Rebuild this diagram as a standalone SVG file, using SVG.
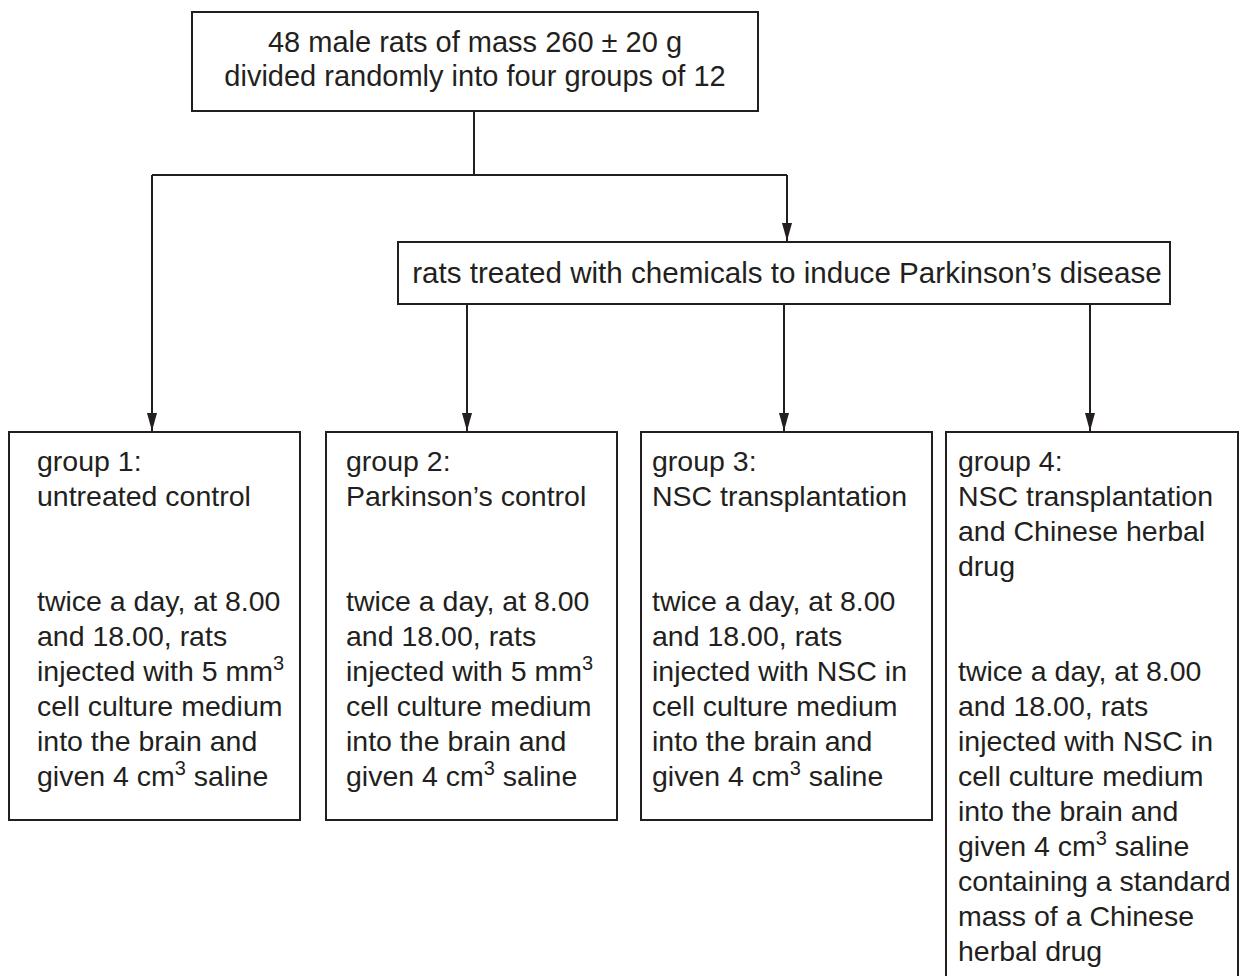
<svg xmlns="http://www.w3.org/2000/svg" width="1242" height="976" viewBox="0 0 1242 976">
<style>
  .box { fill: #ffffff; stroke: #231f20; stroke-width: 2; }
  .conn { fill: none; stroke: #231f20; stroke-width: 2; }
  text { font-family: "Liberation Sans", Arial, sans-serif; font-size: 28.5px; fill: #231f20; }
  .c { text-anchor: middle; font-size: 29px; }
  .m { font-size: 29.6px; }
  .sup { font-size: 20px; }
</style>
<defs>
  <marker id="arrow" markerWidth="18" markerHeight="10" refX="18" refY="5" orient="auto" markerUnits="userSpaceOnUse" viewBox="0 0 18 10">
    <path d="M0,0 L18,5 L0,10 Z" fill="#231f20"/>
  </marker>
</defs>
<rect width="1242" height="976" fill="#ffffff"/>

<g id="connectors">
  <path class="conn" d="M474,111 V175"/>
  <path class="conn" d="M152,175 H787"/>
  <path class="conn" d="M152,175 V431" marker-end="url(#arrow)"/>
  <path class="conn" d="M787,175 V241" marker-end="url(#arrow)"/>
  <path class="conn" d="M467,304 V431" marker-end="url(#arrow)"/>
  <path class="conn" d="M784,304 V431" marker-end="url(#arrow)"/>
  <path class="conn" d="M1090,304 V431" marker-end="url(#arrow)"/>
</g>

<g id="start">
  <rect class="box" x="192" y="12" width="566" height="99"/>
  <text class="c" x="475" y="52">48 male rats of mass 260 ± 20 g</text>
  <text class="c" x="475" y="86">divided randomly into four groups of 12</text>
</g>

<g id="induce">
  <rect class="box" x="398" y="242" width="772" height="62"/>
  <text class="c m" x="787" y="283">rats treated with chemicals to induce Parkinson’s disease</text>
</g>

<g id="group1">
  <rect class="box" x="9" y="432" width="291" height="388"/>
  <text x="37" y="471">group 1:</text>
  <text x="37" y="506">untreated control</text>
  <text x="37" y="611">twice a day, at 8.00</text>
  <text x="37" y="646">and 18.00, rats</text>
  <text x="37" y="681">injected with 5 mm<tspan class="sup" dy="-11">3</tspan></text>
  <text x="37" y="716">cell culture medium</text>
  <text x="37" y="751">into the brain and</text>
  <text x="37" y="786">given 4 cm<tspan class="sup" dy="-11">3</tspan><tspan dy="11"> saline</tspan></text>
</g>

<g id="group2">
  <rect class="box" x="326" y="432" width="291" height="388"/>
  <text x="346" y="471">group 2:</text>
  <text x="346" y="506">Parkinson’s control</text>
  <text x="346" y="611">twice a day, at 8.00</text>
  <text x="346" y="646">and 18.00, rats</text>
  <text x="346" y="681">injected with 5 mm<tspan class="sup" dy="-11">3</tspan></text>
  <text x="346" y="716">cell culture medium</text>
  <text x="346" y="751">into the brain and</text>
  <text x="346" y="786">given 4 cm<tspan class="sup" dy="-11">3</tspan><tspan dy="11"> saline</tspan></text>
</g>

<g id="group3">
  <rect class="box" x="641" y="432" width="291" height="388"/>
  <text x="652" y="471">group 3:</text>
  <text x="652" y="506">NSC transplantation</text>
  <text x="652" y="611">twice a day, at 8.00</text>
  <text x="652" y="646">and 18.00, rats</text>
  <text x="652" y="681">injected with NSC in</text>
  <text x="652" y="716">cell culture medium</text>
  <text x="652" y="751">into the brain and</text>
  <text x="652" y="786">given 4 cm<tspan class="sup" dy="-11">3</tspan><tspan dy="11"> saline</tspan></text>
</g>

<g id="group4">
  <rect class="box" x="946" y="432" width="292" height="580"/>
  <text x="958" y="471">group 4:</text>
  <text x="958" y="506">NSC transplantation</text>
  <text x="958" y="541">and Chinese herbal</text>
  <text x="958" y="576">drug</text>
  <text x="958" y="681">twice a day, at 8.00</text>
  <text x="958" y="716">and 18.00, rats</text>
  <text x="958" y="751">injected with NSC in</text>
  <text x="958" y="786">cell culture medium</text>
  <text x="958" y="821">into the brain and</text>
  <text x="958" y="856">given 4 cm<tspan class="sup" dy="-11">3</tspan><tspan dy="11"> saline</tspan></text>
  <text x="958" y="891">containing a standard</text>
  <text x="958" y="926">mass of a Chinese</text>
  <text x="958" y="961">herbal drug</text>
</g>
</svg>
